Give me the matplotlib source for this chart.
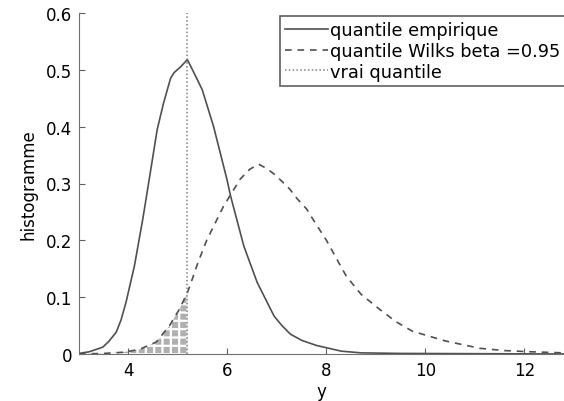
import matplotlib
matplotlib.use("Agg")
from matplotlib import pyplot as plt

# données
x_emp = [3.0, 3.21, 3.48, 3.6, 3.75, 3.85, 3.95, 4.12, 4.29, 4.42, 4.58, 4.71, 4.85, 4.92, 5.05, 5.19,
         5.35, 5.49, 5.72, 5.99, 6.06, 6.33, 6.6, 6.94, 7.1, 7.27, 7.5, 7.8, 8.0, 8.3, 8.7, 9.5, 12.8]
y_emp = [0.001, 0.004, 0.012, 0.022, 0.038, 0.06, 0.091, 0.155, 0.238, 0.308, 0.395, 0.442, 0.485, 0.495, 0.505, 0.518,
         0.49, 0.465, 0.40, 0.307, 0.279, 0.19, 0.126, 0.067, 0.05, 0.035, 0.024, 0.015, 0.011, 0.005, 0.002, 0.001, 0.0]

x_wilks = [3.0, 3.5, 3.88, 4.22, 4.56, 4.83, 5.03, 5.19, 5.25, 5.4, 5.58, 5.92, 6.26, 6.45, 6.63,
           6.8, 6.98, 7.26, 7.41, 7.6, 7.72, 8.0, 8.4, 8.7, 9.07, 9.4, 9.74, 10.4, 11.1, 11.6, 12.1, 12.8]
y_wilks = [0.0, 0.001, 0.003, 0.008, 0.021, 0.05, 0.079, 0.108, 0.122, 0.16, 0.20, 0.26, 0.308, 0.325, 0.334,
           0.326, 0.314, 0.29, 0.273, 0.255, 0.238, 0.20, 0.137, 0.105, 0.079, 0.057, 0.04, 0.023, 0.01, 0.006, 0.004, 0.002]

vrai_q = 5.19
labels = ['quantile empirique', 'quantile Wilks beta =0.95', 'vrai quantile']

plt.rcParams['font.family'] = ['DejaVu Sans']
plt.rcParams['font.size'] = 12
plt.rcParams['hatch.linewidth'] = 1.6

fig = plt.figure(figsize=(5.64, 4.02), dpi=100)
ax = fig.add_axes([79 / 564, 47 / 402, 485 / 564, 341 / 402])

# zone hachurée sous la courbe de Wilks, à gauche du vrai quantile
ax.fill_between(x_wilks, y_wilks, 0, where=[v <= vrai_q for v in x_wilks],
                facecolor='#b0b0b0', edgecolor='white', hatch='++', linewidth=0)

ax.plot(x_emp, y_emp, color='#505050', lw=1.2, label=labels[0])
ax.plot(x_wilks, y_wilks, color='#505050', lw=1.2, linestyle=(0, (4, 3.5)), label=labels[1])
ax.plot([vrai_q, vrai_q], [0, 0.6], color='#808080', lw=1.1, linestyle=(0, (1, 1.5)), label=labels[2])

ax.set_xlim(3, 12.8)
ax.set_ylim(0, 0.6)
ax.set_xticks([4, 6, 8, 10, 12])
ax.set_yticks([0, 0.1, 0.2, 0.3, 0.4, 0.5, 0.6])
ax.set_yticklabels(['0', '0.1', '0.2', '0.3', '0.4', '0.5', '0.6'])
ax.tick_params(direction='in', length=4, color='#606060', pad=5)

for s in ['top', 'right']:
    ax.spines[s].set_visible(False)
for s in ['left', 'bottom']:
    ax.spines[s].set_color('#707070')

ax.set_xlabel('y', labelpad=2)
ax.set_ylabel('histogramme', labelpad=6)

leg = ax.legend(loc='upper left', bbox_to_anchor=(201 / 485, 338 / 341), borderaxespad=0,
                fancybox=False, framealpha=1, edgecolor='#606060', handlelength=2.4,
                handletextpad=0.1, labelspacing=0.15, borderpad=0.3, fontsize=12.8)
leg.get_frame().set_linewidth(1.2)

plt.savefig('out.png', dpi=100)
